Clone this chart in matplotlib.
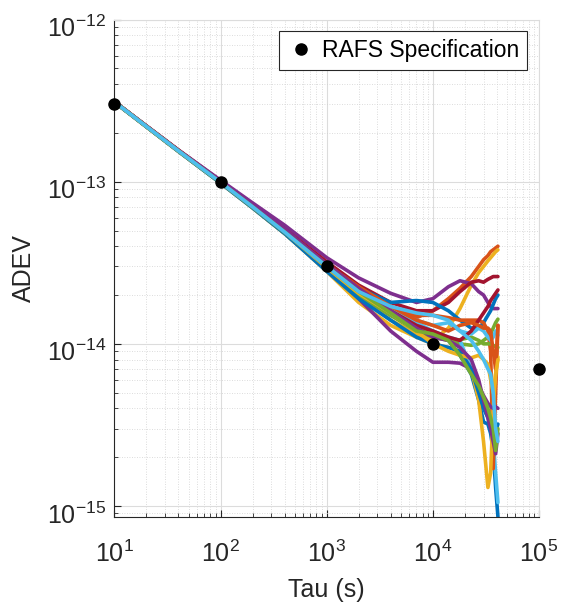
import matplotlib
matplotlib.use('Agg')
import matplotlib.pyplot as plt
import matplotlib.transforms as mtransforms
import numpy as np

plt.rcParams['font.family'] = ['Liberation Sans', 'DejaVu Sans']
plt.rcParams['mathtext.fontset'] = 'custom'
plt.rcParams['mathtext.rm'] = 'Liberation Sans'
plt.rcParams['mathtext.it'] = 'Liberation Sans:italic'
plt.rcParams['mathtext.default'] = 'regular'
plt.rcParams['axes.unicode_minus'] = False

# averaging times (s)
tau = [10, 20, 40, 100, 200, 400, 1000, 2000, 4000, 7000, 10000, 14000,
       18000, 23000, 27000, 30000, 33000, 35000, 37000, 39000, 41000]

# Allan deviation per clock, in units of 1e-15
blue1 = [312, 219, 154, 98, 69, 48, 28.5, 19.5, 15, 12.5, 12, 10.5, 8.5, 6.5, 4.5, 3.3, 3.2, 2.8, 2.2, 1.3, 0.86]
orange1 = [311, 220, 156, 100, 71, 50, 31, 22, 16.5, 14.5, 16, 19, 22, 26, 30, 33, 35, 37, 38, 39, 40]
yellow1 = [310, 218, 154, 99, 69, 48, 29, 20, 14, 11.5, 10.5, 12.5, 16.5, 23, 27.5, 30, 32.5, 34, 35.5, 37, 38]
purple1 = [310, 221, 157, 102, 74, 54, 34, 25.5, 20.5, 18, 19, 22.5, 24.5, 23.5, 21, 20, 18, 17, 16.5, 16.5, 16.5]
green1 = [311, 219, 155, 99, 70, 49, 30, 21, 16, 13, 11.5, 10.5, 10, 9.8, 10, 10.5, 11, 11.5, 12.5, 13.5, 14.2]
lblue1 = [310, 219, 155, 99, 70, 49, 30, 21.5, 16.5, 13.5, 12, 11, 10.5, 7, 5.5, 4.5, 3.8, 3.2, 2.6, 1.6, 1.05]
dred1 = [311, 220, 156, 100, 71, 51, 32, 23, 18, 16, 16, 18, 21, 24, 24.5, 24, 25, 25.5, 26, 26, 26]
blue2 = [310, 219, 155, 99, 70, 49, 29, 22, 18, 18.5, 18, 16, 14, 12.5, 12.5, 13.5, 15, 16, 17.5, 19, 20]
orange2 = [312, 220, 156, 100, 71, 50, 31, 22.5, 17, 15, 15, 14.5, 14, 14, 14, 13.5, 12, 9, 1.7, 5, 13]
yellow2 = [309, 218, 154, 98, 69, 48, 28, 18, 13, 11, 10, 9.5, 9, 7, 4.5, 2.5, 1.3, 1.6, 4, 6.5, 8.3]
purple2 = [310, 220, 156, 101, 72, 51, 30, 19, 12, 9, 7.7, 7.7, 7.6, 7, 5.5, 4.8, 4.3, 4.1, 4.0, 4.1, 4.0]
green2 = [310, 219, 155, 99, 70, 49, 29.5, 20, 15, 12, 11, 10.5, 10.6, 11, 10.5, 10, 10, 10, 9.8, 9.6, 9.5]
lblue2 = [311, 220, 155, 100, 70, 49, 30, 21, 16, 14, 13, 13.5, 12, 11.5, 12.5, 12, 11, 10.5, 11, 12, 11.3]
dred2 = [310, 220, 156, 100, 71, 50, 31.5, 22, 16, 13, 12, 11, 10.5, 12, 14, 15.5, 17, 18.5, 19.5, 20.5, 21.5]
blue3 = [309, 218, 154, 98, 69, 48, 28, 19, 14, 11, 10, 9.5, 9, 7, 5, 4, 3.5, 3, 2.7, 2.9, 3.2]
orange3 = [311, 220, 156, 100, 71, 50, 31, 22, 17, 14, 13, 12, 13, 13.5, 13, 12.5, 12.5, 12, 9, 7, 13]
yellow3 = [310, 219, 155, 99, 70, 49, 29.5, 20.5, 15.5, 12, 10, 9, 8.5, 8.2, 8.5, 8, 7.5, 6, 5, 6.5, 8]
purple3 = [311, 220, 156, 101, 72, 51, 31, 22, 16, 12.5, 11, 10.5, 9.5, 8, 6, 4.5, 3.5, 3, 2.5, 2.1, 2.8]
green3 = [310, 219, 155, 99, 70, 49, 30, 21, 15.5, 12, 11.5, 10.5, 8.5, 6.5, 5.5, 4.7, 4, 3.5, 3, 2.2, 3]
lblue3 = [310, 219, 155, 99, 70, 49, 30, 21, 17, 15.5, 15, 14, 12, 10.5, 9, 8, 7, 6.5, 5, 3, 2.5]

clocks = [blue1, orange1, yellow1, purple1, green1, lblue1, dred1,
          blue2, orange2, yellow2, purple2, green2, lblue2, dred2,
          blue3, orange3, yellow3, purple3, green3, lblue3]

# specification points
spec_tau = [10, 100, 1000, 10000, 100000]
spec_adev = [3e-13, 1e-13, 3e-14, 1e-14, 7e-15]

xticks = [1e1, 1e2, 1e3, 1e4, 1e5]
yticks = [1e-15, 1e-14, 1e-13, 1e-12]

colors = ['#0072BD', '#D95319', '#EDB120', '#7E2F8E', '#77AC30', '#4DBEEE', '#A2142F']
txt = '#262626'

fig = plt.figure(figsize=(5.71, 6.11), dpi=100)
ax = fig.add_axes([0.2005, 0.1538, 0.7435, 0.8142])

for i, c in enumerate(clocks):
    ax.loglog(tau, np.array(c) * 1e-15, color=colors[i % 7], lw=2.6,
              solid_capstyle='round', solid_joinstyle='round')

ax.loglog(spec_tau, spec_adev, 'o', color='k', ms=8, label='RAFS Specification',
          clip_on=False, zorder=5)

ax.set_xlim(10, 1e5)
ax.set_ylim(8.55e-16, 1e-12)
ax.set_xticks(xticks)
ax.set_yticks(yticks)

ax.grid(True, which='major', color='#dcdcdc', lw=0.8, ls='-')
ax.grid(True, which='minor', color='#d0d0d0', lw=0.6, ls=(0, (1, 2)))
ax.set_axisbelow(True)

for s in ['left', 'bottom']:
    ax.spines[s].set_color(txt)
    ax.spines[s].set_linewidth(0.8)
for s in ['top', 'right']:
    ax.spines[s].set_color('#dcdcdc')
    ax.spines[s].set_linewidth(0.8)

ax.tick_params(which='both', direction='in', colors=txt, top=False, right=False)
ax.tick_params(which='major', length=5, labelsize=18)
ax.tick_params(which='minor', length=3)
ax.tick_params(axis='x', which='major', pad=17)
ax.tick_params(axis='y', which='major', pad=6)

# nudge the y tick labels down a little
shift = mtransforms.ScaledTranslation(0, -5 / 72, fig.dpi_scale_trans)
for t in ax.yaxis.get_major_ticks():
    t.label1.set_transform(t.label1.get_transform() + shift)

ax.set_xlabel('Tau (s)', fontsize=18, color=txt, labelpad=8)
ax.set_ylabel('ADEV', fontsize=18, color=txt, labelpad=8)

leg = ax.legend(loc='upper right', bbox_to_anchor=(0.972, 0.977), borderaxespad=0,
                fancybox=False, framealpha=1, edgecolor=txt, fontsize=16.5,
                handletextpad=0.3, handlelength=1.2, borderpad=0.35)
leg.get_frame().set_linewidth(0.8)
for t in leg.get_texts():
    t.set_color('k')

fig.savefig('out.png', dpi=100)
